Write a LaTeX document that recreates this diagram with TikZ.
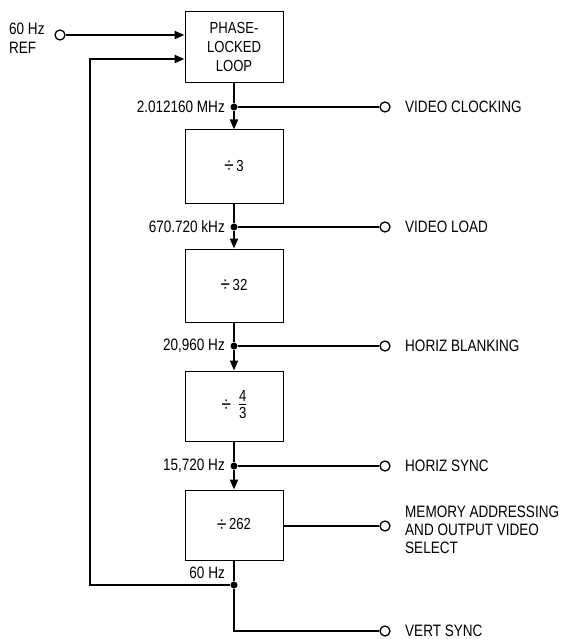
\documentclass[tikz,border=0pt]{standalone}
\usepackage{fontspec}
\setmainfont{Liberation Sans}[FakeStretch=0.82]
\usetikzlibrary{arrows.meta}
\newcommand{\dv}{\raisebox{-1.5pt}{\scalebox{1.3}{÷}}}
\begin{document}
\begin{tikzpicture}[x=1pt,y=-1pt,
  blk/.style={draw,line width=1pt,minimum width=98pt,minimum height=71pt,inner sep=0pt,align=center,font=\fontsize{16}{19}\selectfont},
  wire/.style={line width=2pt},
  arr/.style={wire,-{Triangle[length=10pt,width=8pt]}},
  dotj/.style={circle,fill,inner sep=0pt,minimum size=7pt},
  term/.style={circle,draw,line width=1.3pt,fill=white,inner sep=0pt,minimum size=10pt},
  lbl/.style={font=\fontsize{16.5}{18}\selectfont,inner sep=0pt},
  flbl/.style={lbl,anchor=east}]
\useasboundingbox (0,0) rectangle (560,639);
% blocks
\node[blk] (pll) at (234,47) {PHASE-\\LOCKED\\LOOP};
\node[blk,minimum height=73pt] (d3) at (234,166.5) {\dv\,3};
\node[blk,minimum height=73pt] (d32) at (234,285.5) {\dv\,32};
\node[blk,minimum height=70pt] (d43) at (234,406) {\dv\enspace\begin{tabular}{@{}c@{}}4\\[-3pt]\hline\rule{0pt}{14pt}3\end{tabular}};
\node[blk,minimum height=70pt] (d262) at (234,525) {\dv\,262};
% junctions
\node[dotj] (j1) at (234,107) {};
\node[dotj] (j2) at (234,227) {};
\node[dotj] (j3) at (234,346) {};
\node[dotj] (j4) at (234,466) {};
\node[dotj] (j5) at (234,585) {};
% terminals
\node[term] (in) at (60,35) {};
\node[term] (o1) at (385,107) {};
\node[term] (o2) at (385,227) {};
\node[term] (o3) at (385,346) {};
\node[term] (o4) at (385,466) {};
\node[term] (o5) at (385,526) {};
\node[term] (o6) at (385,631) {};
\coordinate (fbA) at (90,585);
\coordinate (fbB) at (90,59);
\coordinate (vs) at (234,631);
% input and feedback
\draw[arr] (in) -- (pll.west |- in);
\draw[arr] (j5) -- (fbA) -- (fbB) -- (pll.west |- fbB);
% chain
\draw[wire] (pll) -- (j1);
\draw[arr] (j1) -- (d3);
\draw[wire] (d3) -- (j2);
\draw[arr] (j2) -- (d32);
\draw[wire] (d32) -- (j3);
\draw[arr] (j3) -- (d43);
\draw[wire] (d43) -- (j4);
\draw[arr] (j4) -- (d262);
\draw[wire] (d262) -- (j5);
\draw[wire] (j5) -- (vs) -- (o6);
% outputs
\draw[wire] (j1) -- (o1);
\draw[wire] (j2) -- (o2);
\draw[wire] (j3) -- (o3);
\draw[wire] (j4) -- (o4);
\draw[wire] (d262.east |- o5) -- (o5);
% labels
\node[lbl,anchor=north west,align=left,font=\fontsize{16.5}{19}\selectfont] (ref) at (9,23) {60 Hz\\REF};
\node[flbl] (f1) at (225,107) {2.012160 MHz};
\node[flbl] (f2) at (225,227) {670.720 kHz};
\node[flbl] (f3) at (225,346) {20,960 Hz};
\node[flbl] (f4) at (225,466) {15,720 Hz};
\node[flbl] (f5) at (225,573) {60 Hz};
\node[lbl,anchor=west] (t1) at (405,107) {VIDEO CLOCKING};
\node[lbl,anchor=west] (t2) at (405,227) {VIDEO LOAD};
\node[lbl,anchor=west] (t3) at (405,346) {HORIZ BLANKING};
\node[lbl,anchor=west] (t4) at (405,466) {HORIZ SYNC};
\node[lbl,anchor=west,align=left,font=\fontsize{16.5}{18}\selectfont] (t5) at (405,530) {MEMORY ADDRESSING\\AND OUTPUT VIDEO\\SELECT};
\node[lbl,anchor=west] (t6) at (405,631) {VERT SYNC};
\end{tikzpicture}
\end{document}
